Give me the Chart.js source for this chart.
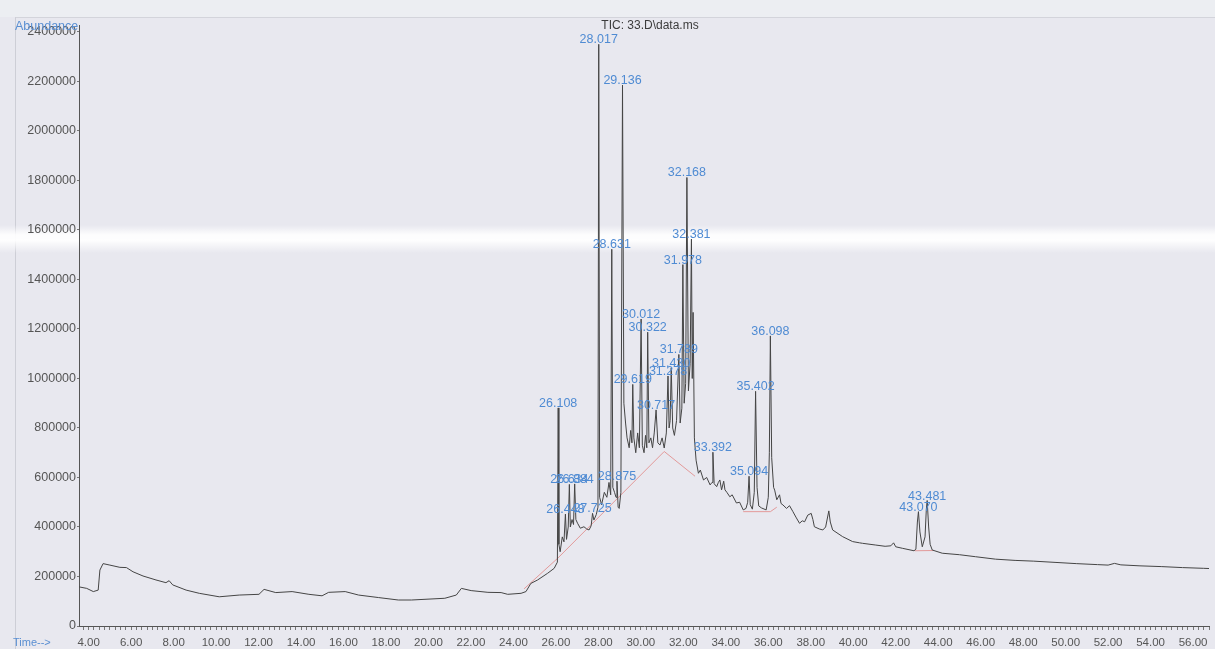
<!DOCTYPE html>
<html><head><meta charset="utf-8">
<script src="https://cdn.jsdelivr.net/npm/chart.js@4.4.1/dist/chart.umd.min.js"></script>
<style>
html,body{margin:0;padding:0;background:#e8e8ef;overflow:hidden;}
#wrap{position:relative;width:1215px;height:649px;}
</style></head><body>
<div id="wrap"><canvas id="c" width="1215" height="649"></canvas></div>
<script>
// ---- TIC trace (retention time in min, abundance) ----
const times = [
 3.55,3.91,4.22,4.45,4.53,4.68,5.0,5.47,5.78,6.09,
 6.56,7.17,7.64,7.79,7.96,8.59,9.21,10.15,11.09,12.02,
 12.26,12.81,13.58,14.37,14.99,15.30,16.08,16.71,17.64,18.58,
 19.2,20.77,21.31,21.55,22.01,22.80,23.42,23.73,24.36,24.59,
 24.82,25.14,25.61,25.92,26.07,26.108,26.14,26.2,26.3,26.38,
 26.448,26.5,26.58,26.634,26.68,26.76,26.83,26.884,26.94,27.02,
 27.15,27.32,27.45,27.56,27.66,27.725,27.79,27.9,27.98,28.017,
 28.06,28.15,28.28,28.4,28.5,28.58,28.631,28.68,28.76,28.83,
 28.875,28.93,28.98,29.06,29.136,29.2,29.28,29.35,29.45,29.52,
 29.58,29.619,29.67,29.76,29.85,29.93,30.012,30.07,30.15,30.22,
 30.28,30.322,30.38,30.47,30.55,30.63,30.717,30.8,30.9,31.0,
 31.1,31.2,31.278,31.33,31.38,31.43,31.5,31.58,31.68,31.789,
 31.85,31.93,31.978,32.04,32.11,32.168,32.24,32.32,32.381,32.42,
 32.46,32.52,32.6,32.71,32.8,32.95,33.1,33.26,33.35,33.392,
 33.45,33.57,33.65,33.72,33.8,33.9,33.96,34.05,34.19,34.3,
 34.5,34.65,34.82,34.95,35.03,35.094,35.15,35.25,35.34,35.402,
 35.47,35.55,35.68,35.9,36.0,36.05,36.098,36.16,36.25,36.3,
 36.4,36.53,36.6,36.69,36.86,37.0,37.16,37.3,37.47,37.6,
 37.71,37.86,38.02,38.1,38.17,38.4,38.57,38.7,38.85,38.92,
 39.03,39.5,39.97,40.3,40.44,41.06,41.5,41.77,41.9,42.0,
 42.31,42.86,42.95,43.02,43.07,43.14,43.25,43.38,43.44,43.481,
 43.55,43.62,43.72,44.19,45.0,45.75,46.7,47.62,48.5,49.5,
 50.5,51.5,52.0,52.3,52.6,53.5,54.5,55.5,56.5,56.8
];
const abundance = [
 158000,152000,139000,145000,226000,252000,246000,237000,236000,219000,
 202000,186000,175000,183000,166000,145000,132000,118000,125000,128000,
 148000,135000,139000,128000,122000,136000,139000,125000,115000,105000,
 105000,112000,125000,152000,143000,136000,135000,128000,132000,139000,
 172000,186000,213000,233000,258000,881000,330000,300000,360000,340000,
 452000,350000,400000,572000,400000,430000,410000,574000,430000,415000,
 395000,401000,392000,388000,405000,455000,428000,450000,480000,2350000,
 520000,490000,540000,520000,580000,530000,1522000,560000,540000,520000,
 585000,480000,475000,540000,2185000,900000,820000,760000,720000,790000,
 740000,976000,760000,700000,780000,720000,1240000,730000,700000,770000,
 720000,1187000,740000,760000,720000,780000,873000,740000,731000,760000,
 719000,780000,1010000,800000,830000,1043000,800000,770000,830000,1097000,
 820000,880000,1460000,900000,980000,1812000,950000,1060000,1563000,1000000,
 1267000,760000,670000,617000,630000,590000,600000,570000,580000,702000,
 575000,563000,580000,590000,550000,585000,550000,540000,522000,530000,
 497000,500000,469000,475000,500000,605000,490000,472000,540000,948000,
 560000,485000,477000,469000,520000,700000,1172000,680000,560000,549000,
 510000,530000,495000,489000,475000,486000,462000,440000,415000,425000,
 421000,448000,455000,430000,401000,392000,388000,400000,465000,420000,
 388000,361000,341000,336000,334000,327000,322000,324000,336000,320000,
 314000,304000,310000,420000,462000,380000,320000,360000,470000,507000,
 400000,330000,307000,294000,288000,280000,270000,265000,262000,257000,
 252000,248000,246000,253000,247000,243000,240000,236000,233000,232000
];

// ---- integration baselines (null = break) ----
const baseTimes  = [24.5, 26.1, 31.1, 32.55, null, 34.82, 36.1, 36.4, null, 42.9, 43.8];
const baseValues = [150000, 275000, 705000, 605000, null, 462000, 462000, 480000, null, 304000, 305000];

// ---- labelled peaks ----
const peakTimes  = [26.108,26.448,26.634,26.884,27.725,28.017,28.631,28.875,29.136,29.619,
                    30.012,30.322,30.717,31.278,31.43,31.789,31.978,32.168,32.381,33.392,
                    35.094,35.402,36.098,43.07,43.481];
const peakLabels = ["26.108","26.448","26.634","26.884","27.725","28.017","28.631","28.875","29.136","29.619",
                    "30.012","30.322","30.717","31.278","31.430","31.789","31.978","32.168","32.381","33.392",
                    "35.094","35.402","36.098","43.070","43.481"];

// ---- axes ----
const xTickLabels = ["4.00","6.00","8.00","10.00","12.00","14.00","16.00","18.00","20.00","22.00","24.00","26.00",
                     "28.00","30.00","32.00","34.00","36.00","38.00","40.00","42.00","44.00","46.00","48.00",
                     "50.00","52.00","54.00","56.00"];
const yTickValues = [0,200000,400000,600000,800000,1000000,1200000,1400000,1600000,1800000,2000000,2200000,2400000];
const titleText = "TIC: 33.D\\data.ms";
const yAxisName = "Abundance";
const xAxisName = "Time-->";

const FONT = '"Liberation Sans", Arial, sans-serif';
const traceData = times.map((t, i) => ({x: t, y: abundance[i]}));
const baseData = baseTimes.map((t, i) => (t === null ? {x: null, y: null} : {x: t, y: baseValues[i]}));

const bgPlugin = {
  id: 'bg',
  beforeDraw(chart) {
    const ctx = chart.ctx, W = chart.width, H = chart.height;
    ctx.save();
    ctx.fillStyle = '#e8e8ef'; ctx.fillRect(0, 0, W, H);
    ctx.fillStyle = '#eceef2'; ctx.fillRect(0, 0, W, 17);
    ctx.strokeStyle = '#d3d4db'; ctx.lineWidth = 1;
    ctx.beginPath(); ctx.moveTo(15, 17.5); ctx.lineTo(W, 17.5); ctx.stroke();
    ctx.strokeStyle = '#cdced6';
    ctx.beginPath(); ctx.moveTo(15.5, 17); ctx.lineTo(15.5, H); ctx.stroke();
    const g = ctx.createLinearGradient(0, 225, 0, 253);
    g.addColorStop(0, 'rgba(255,255,255,0)');
    g.addColorStop(0.35, 'rgba(255,255,255,0.9)');
    g.addColorStop(0.55, 'rgba(255,255,255,0.95)');
    g.addColorStop(1, 'rgba(255,255,255,0)');
    ctx.fillStyle = g; ctx.fillRect(0, 225, W, 28);
    ctx.restore();
  }
};

const textPlugin = {
  id: 'texts',
  afterDraw(chart) {
    const ctx = chart.ctx, xs = chart.scales.x, ys = chart.scales.y;
    ctx.save();
    ctx.font = '12.5px ' + FONT;
    ctx.fillStyle = '#4f8bd3';
    ctx.textAlign = 'center';
    ctx.textBaseline = 'alphabetic';
    peakTimes.forEach((t, i) => {
      const idx = times.indexOf(t);
      const v = idx >= 0 ? abundance[idx] : 0;
      ctx.fillText(peakLabels[i], xs.getPixelForValue(t), ys.getPixelForValue(v) - 1);
    });
    ctx.fillStyle = '#3c3c3c';
    ctx.font = '12px ' + FONT;
    ctx.textBaseline = 'middle';
    ctx.fillText(titleText, 650, 26);
    ctx.fillStyle = '#5a8fd2';
    ctx.textAlign = 'left';
    ctx.font = '12.5px ' + FONT;
    ctx.fillText(yAxisName, 15, 27);
    ctx.font = '11px ' + FONT;
    ctx.fillText(xAxisName, 13, 643);
    ctx.restore();
  }
};

new Chart(document.getElementById('c'), {
  type: 'line',
  data: {
    datasets: [
      { data: traceData, borderColor: '#454545', borderWidth: 1, pointRadius: 0, tension: 0, order: 1 },
      { data: baseData, borderColor: '#e39a9a', borderWidth: 1, pointRadius: 0, tension: 0, spanGaps: false, order: 2 }
    ]
  },
  options: {
    responsive: false,
    animation: false,
    devicePixelRatio: 1,
    layout: { padding: { top: 25, left: 0, right: 0, bottom: 0 } },
    plugins: { legend: { display: false }, tooltip: { enabled: false }, title: { display: false } },
    scales: {
      x: {
        type: 'linear', min: 3.546, max: 56.754,
        afterBuildTicks(s) {
          const tk = [];
          for (let k = 15; k <= 227; k++) tk.push({ value: k * 0.25 });
          s.ticks = tk;
        },
        afterFit(s) { s.height = 23; },
        ticks: {
          autoSkip: false, maxRotation: 0, minRotation: 0, padding: 6,
          color: '#555', font: { size: 11.5, family: FONT },
          callback(v) { const s = Number(v).toFixed(2); return xTickLabels.includes(s) ? s : ''; }
        },
        grid: { drawOnChartArea: false, drawTicks: true, tickLength: 4, tickColor: '#777', tickWidth: 1 },
        border: { display: true, color: '#555', width: 1 }
      },
      y: {
        type: 'linear', min: 0, max: 2428000,
        afterBuildTicks(s) { s.ticks = yTickValues.map(v => ({ value: v })); },
        afterFit(s) { s.width = 79; },
        ticks: {
          padding: 1, color: '#555', font: { size: 12.5, family: FONT },
          callback(v) { return String(v); }
        },
        grid: { drawOnChartArea: false, drawTicks: true, tickLength: 2, tickColor: '#777' },
        border: { display: true, color: '#555', width: 1 }
      }
    }
  },
  plugins: [bgPlugin, textPlugin]
});
</script>
</body></html>
